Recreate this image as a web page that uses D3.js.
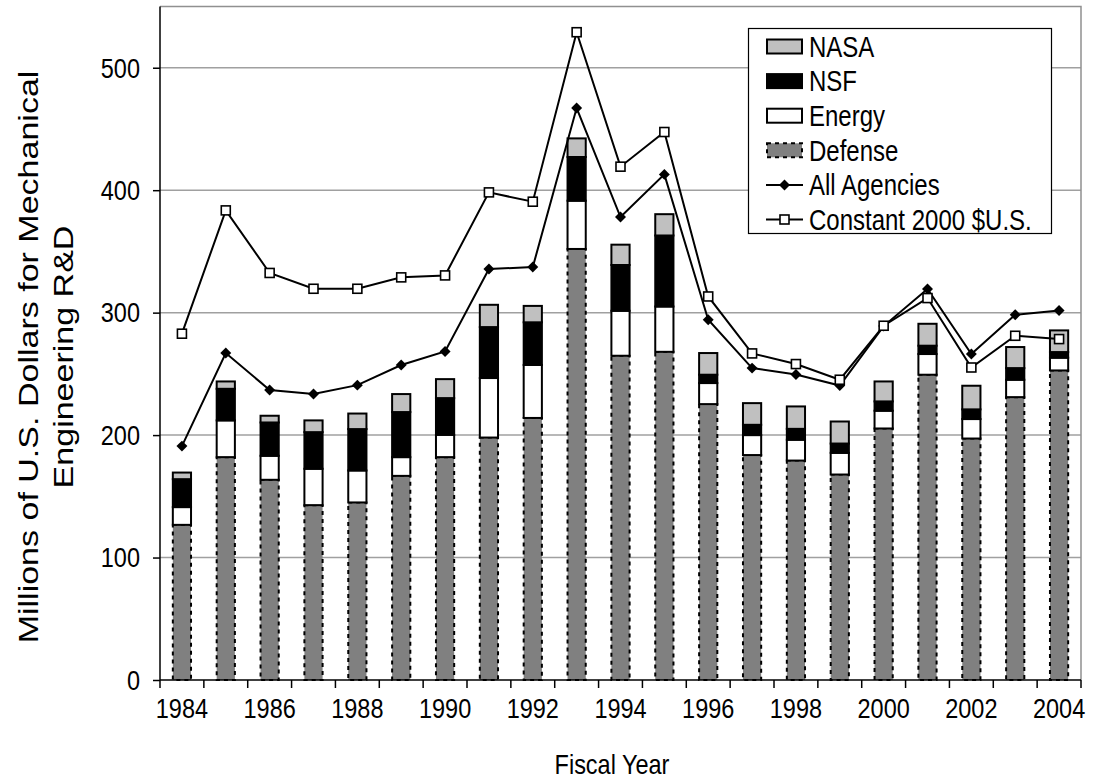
<!DOCTYPE html>
<html>
<head>
<meta charset="utf-8">
<script src="https://cdn.jsdelivr.net/npm/d3@7"></script>
<style>
  html, body { margin: 0; padding: 0; background: #fff; }
  svg { display: block; font-family: "Liberation Sans", Arial, sans-serif; }
</style>
</head>
<body>
<svg id="chart" width="1094" height="784"></svg>
<script>
// ---- Data ----
const years = [1984,1985,1986,1987,1988,1989,1990,1991,1992,1993,1994,1995,1996,1997,1998,1999,2000,2001,2002,2003,2004];
const defense = [126.7,182,163.5,142.8,145,166.7,182,198,214,352,264.8,268,225.3,183.7,179.2,167.8,205.4,249.3,197.2,231,252.8];
const energy  = [14.5,30,19.6,29.7,26.1,15.3,18.2,48.6,43.3,39.4,36.7,37,17.2,16.3,17,17.7,14.5,16.9,15.9,14.2,10.4];
const nsf     = [22.8,25.8,27.2,29.9,33.8,36.8,30,41.6,34.8,35.7,37.4,58,6.8,8.4,8.9,7.6,7.6,6.8,7.9,9.5,4.6];
const nasa    = [5.4,6,5.5,9.6,12.7,14.7,15.5,18.2,13.4,15.2,16.6,17.4,17.7,17.7,18.3,18,16.3,17.9,19.3,17.2,17.7];
const allAgencies = [191,267,236.8,233.5,240.8,257.2,268.3,335.6,337.2,467.1,378.1,412.9,294.2,254.7,249.5,240.5,289,319.3,266.2,298.3,301.8];
const constant2000 = [282.8,383.5,332.4,319.5,319.5,328.8,330.4,398.2,390.6,529,419.2,447.5,313.2,266.7,258,245.2,289.3,311.9,255.2,281.1,278.4];
const yTicks = [0,100,200,300,400,500];
const xTickLabels = [1984,1986,1988,1990,1992,1994,1996,1998,2000,2002,2004];
const seriesNames = ["Defense","Energy","NSF","NASA"];
const legendItems = ["NASA","NSF","Energy","Defense","All Agencies","Constant 2000 $U.S."];

// ---- Layout ----
const svg = d3.select("#chart");
const L = 160, R = 1081, T = 6.5, B = 680;
const K = 1.2; // vertical text stretch
const x = d3.scaleBand().domain(years).range([L, R]).paddingInner(0.585).paddingOuter(0.2925);
const xOuter = d3.scaleBand().domain(years).range([L, R]);
const y = d3.scaleLinear().domain([0, 550]).range([B, T]);

const styles = {
  Defense: {fill: "#808080", stroke: "#000", dash: "4,4"},
  Energy:  {fill: "#ffffff", stroke: "#000", dash: null},
  NSF:     {fill: "#000000", stroke: "#000", dash: null},
  NASA:    {fill: "#c0c0c0", stroke: "#000", dash: null}
};

function stretchedText(parent, tx, ty, str, size, anchor) {
  return parent.append("text")
    .attr("transform", `translate(${tx},${ty}) scale(1,${K})`)
    .attr("text-anchor", anchor || "start")
    .attr("font-size", size).attr("fill", "#000")
    .text(str);
}

// gridlines
svg.append("g").selectAll("line").data(yTicks.filter(d => d > 0)).join("line")
  .attr("x1", L).attr("x2", R).attr("y1", d => y(d)).attr("y2", d => y(d))
  .attr("stroke", "#a0a0a0").attr("stroke-width", 1.5);
// plot border top & right
svg.append("path").attr("d", `M${L},${T}H${R}V${B}`).attr("fill", "none")
  .attr("stroke", "#909090").attr("stroke-width", 1.5);

// stacked bars
const table = years.map((yr, i) => ({year: yr, Defense: defense[i], Energy: energy[i], NSF: nsf[i], NASA: nasa[i]}));
const stacked = d3.stack().keys(seriesNames)(table);
const barG = svg.append("g");
stacked.forEach(layer => {
  const st = styles[layer.key];
  barG.append("g").selectAll("rect").data(layer).join("rect")
    .attr("x", d => x(d.data.year))
    .attr("width", x.bandwidth())
    .attr("y", d => y(d[1]))
    .attr("height", d => y(d[0]) - y(d[1]))
    .attr("fill", st.fill)
    .attr("stroke", st.stroke)
    .attr("stroke-width", 2)
    .attr("stroke-dasharray", st.dash);
});

// lines
const cx = d => x(d) + x.bandwidth() / 2;
const lineGen = d3.line().x(d => cx(d.year)).y(d => y(d.v));
const constData = years.map((yr, i) => ({year: yr, v: constant2000[i]}));
const allData = years.map((yr, i) => ({year: yr, v: allAgencies[i]}));
svg.append("path").datum(constData).attr("d", lineGen).attr("fill", "none").attr("stroke", "#000").attr("stroke-width", 2);
svg.append("path").datum(allData).attr("d", lineGen).attr("fill", "none").attr("stroke", "#000").attr("stroke-width", 2);
svg.append("g").selectAll("path").data(allData).join("path")
  .attr("d", d3.symbol().type(d3.symbolSquare).size(60))
  .attr("transform", d => `translate(${cx(d.year)},${y(d.v)}) rotate(45)`)
  .attr("fill", "#000");
svg.append("g").selectAll("rect").data(constData).join("rect")
  .attr("x", d => cx(d.year) - 4.5).attr("y", d => y(d.v) - 4.5)
  .attr("width", 9).attr("height", 9)
  .attr("fill", "#fff").attr("stroke", "#000").attr("stroke-width", 1.6);

// y axis
const yAxis = d3.axisLeft(y).tickValues(yTicks).tickSize(7).tickPadding(8).tickFormat("");
const yg = svg.append("g").attr("transform", `translate(${L},0)`).call(yAxis);
yg.select(".domain").attr("stroke", "#000").attr("stroke-width", 1.5).attr("d", `M0,${T}V${B}`);
yg.selectAll(".tick line").attr("stroke", "#000").attr("stroke-width", 1.5);
yTicks.forEach(v => stretchedText(svg, 140, y(v) + 8.2 * K, String(v), 23.5, "end"));

// x axis: ticks at category boundaries
const xg = svg.append("g");
xg.append("line").attr("x1", L).attr("x2", R).attr("y1", B).attr("y2", B).attr("stroke", "#000").attr("stroke-width", 1.5);
const boundaries = years.map(d => xOuter(d)).concat([R]);
xg.selectAll("line.t").data(boundaries).join("line").attr("class", "t")
  .attr("x1", d => d).attr("x2", d => d).attr("y1", B).attr("y2", B + 8)
  .attr("stroke", "#000").attr("stroke-width", 1.5);
xTickLabels.forEach(v => stretchedText(xg, cx(v), B + 38, String(v), 23.5, "middle"));

// axis titles
stretchedText(svg, 612, 774, "Fiscal Year", 23.5, "middle");
const yt = svg.append("text").attr("transform", "translate(0,357) rotate(-90) scale(1.26,1)")
  .attr("text-anchor", "middle").attr("font-size", 27);
yt.append("tspan").attr("x", 0).attr("y", 38).text("Millions of U.S. Dollars for Mechanical");
yt.append("tspan").attr("x", 0).attr("y", 73).text("Engineering R&D");

// legend
const lg = svg.append("g");
lg.append("rect").attr("x", 748.5).attr("y", 28.5).attr("width", 303).attr("height", 205)
  .attr("fill", "#fff").attr("stroke", "#000").attr("stroke-width", 1.2);
const rowY = i => 46.5 + i * 34.6;
legendItems.forEach((name, i) => {
  const cy = rowY(i);
  if (styles[name]) {
    const st = styles[name];
    lg.append("rect").attr("x", 767).attr("y", cy - 7).attr("width", 35).attr("height", 14)
      .attr("fill", st.fill).attr("stroke", st.stroke).attr("stroke-width", 2)
      .attr("stroke-dasharray", st.dash);
  } else {
    lg.append("line").attr("x1", 766).attr("x2", 803).attr("y1", cy).attr("y2", cy)
      .attr("stroke", "#000").attr("stroke-width", 2);
    if (name === "All Agencies") {
      lg.append("path").attr("d", d3.symbol().type(d3.symbolSquare).size(60))
        .attr("transform", `translate(784.5,${cy}) rotate(45)`).attr("fill", "#000");
    } else {
      lg.append("rect").attr("x", 780).attr("y", cy - 4.5).attr("width", 9).attr("height", 9)
        .attr("fill", "#fff").attr("stroke", "#000").attr("stroke-width", 1.6);
    }
  }
  stretchedText(lg, 809, cy + 8.6 * K, name, 24, "start");
});
</script>
</body>
</html>
